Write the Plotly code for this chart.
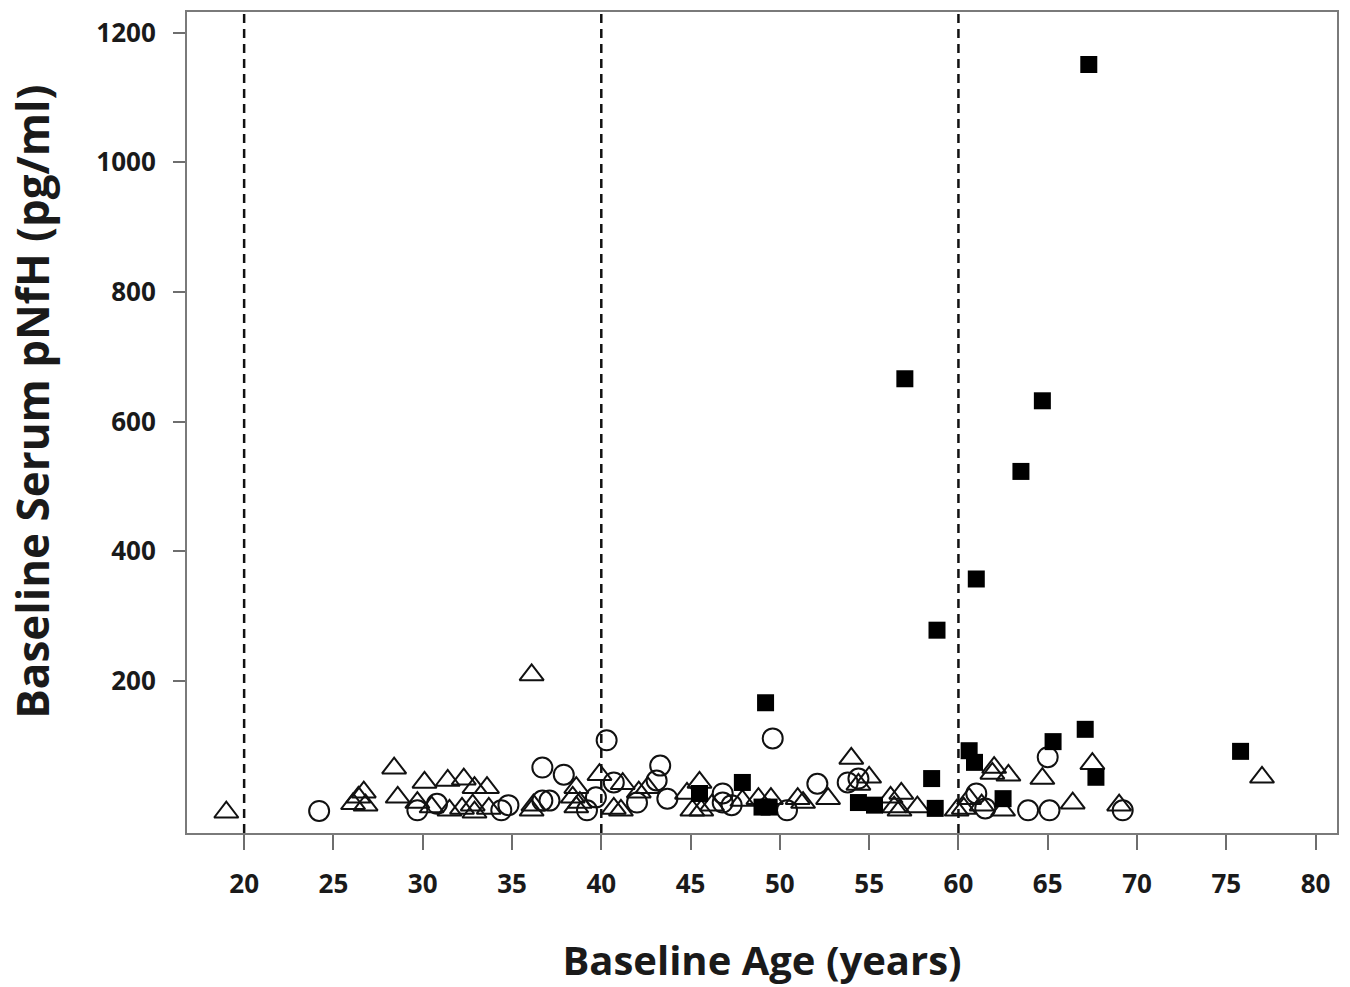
import plotly.graph_objects as go

# Open triangles
tri_age = [19.0, 26.1, 26.7, 26.8, 26.4, 28.4, 28.6, 29.7, 30.1, 30.5, 31.4, 31.5, 32.2, 32.3,
           32.8, 32.9, 32.9, 33.6, 33.7, 36.1, 36.1, 36.2, 38.6, 38.4, 38.8, 38.6, 39.9, 40.7,
           41.2, 41.1, 42.1, 42.6, 44.8, 45.5, 45.1, 45.6, 46.2, 47.9, 48.8, 49.5, 51.0, 51.3,
           52.7, 54.0, 54.4, 55.0, 56.2, 56.8, 56.4, 56.7, 57.7, 59.9, 60.6, 61.3, 62.0, 62.8,
           61.9, 62.5, 60.3, 64.7, 66.4, 67.5, 69.0, 77.0]
tri_val = [-3, 10, 28, 8, 20, 65, 20, 12, 43, 5, 46, 0, 3, 48,
           8, 35, -3, 35, 3, 209, 0, 8, 35, 20, 12, 5, 55, 3,
           41, 0, 28, 35, 26, 43, 0, 0, 8, 15, 18, 18, 18, 12,
           18, 80, 40, 51, 20, 26, 5, 0, 5, 0, 18, 8, 66, 54,
           57, 0, 3, 49, 11, 72, 8, 51]

# Open circles
cir_age = [24.2, 29.7, 30.8, 34.4, 34.8, 36.7, 37.9, 36.7, 37.1, 39.2, 39.7, 40.3, 40.7, 42.0,
           43.3, 43.1, 43.7, 46.8, 46.8, 47.3, 49.6, 50.4, 52.1, 53.8, 54.4, 61.0, 61.5, 63.9,
           65.0, 65.1, 69.2]
cir_val = [-1, 0, 10, 0, 8, 66, 55, 15, 15, 0, 20, 108, 43, 12,
           69, 46, 18, 26, 12, 8, 111, 0, 41, 43, 49, 26, 3, 0,
           82, 0, 0]

# Filled squares
sq_age = [67.3, 57.0, 64.7, 63.5, 61.0, 58.8, 49.2, 67.1, 65.3, 75.8, 60.6, 60.9, 58.5, 67.7,
          47.9, 45.5, 62.5, 54.4, 55.3, 58.7, 49.0, 49.4]
sq_val = [1151, 666, 632, 523, 357, 278, 166, 125, 106, 91, 92, 74, 49, 51,
          43, 26, 18, 12, 8, 3, 5, 5]

ref_ages = [20, 40, 60]
x_ticks = list(range(20, 81, 5))
y_ticks = [200, 400, 600, 800, 1000, 1200]

fig = go.Figure()
fig.add_trace(go.Scatter(x=tri_age, y=tri_val, mode="markers",
                         marker=dict(symbol="triangle-up-open", size=21, color="#111",
                                     line=dict(width=2, color="#111")), showlegend=False))
fig.add_trace(go.Scatter(x=cir_age, y=cir_val, mode="markers",
                         marker=dict(symbol="circle-open", size=20, color="#111",
                                     line=dict(width=2, color="#111")), showlegend=False))
fig.add_trace(go.Scatter(x=sq_age, y=sq_val, mode="markers",
                         marker=dict(symbol="square", size=17, color="#000",
                                     line=dict(width=0)), showlegend=False))

for a in ref_ages:
    fig.add_shape(type="line", x0=a, x1=a, xref="x", y0=0, y1=1, yref="paper",
                  line=dict(color="#111", width=2.5, dash="9px,6px"), layer="below")

font_family = "Open Sans, Noto Sans, DejaVu Sans, sans-serif"

fig.add_annotation(text="Baseline Serum pNfH (pg/ml)", textangle=-90,
                   xref="paper", yref="paper", x=-0.135, y=0.525,
                   xanchor="center", yanchor="middle", showarrow=False,
                   font=dict(size=44, family=font_family, weight="bold", color="#1a1a1a"))

fig.update_layout(
    width=1350, height=987,
    margin=dict(l=187, r=13, t=10, b=154),
    paper_bgcolor="white", plot_bgcolor="white",
    font=dict(family=font_family, color="#1a1a1a"),
    xaxis=dict(range=[16.8, 81.2], tickvals=x_ticks, ticks="outside", ticklen=15,
               tickwidth=2, tickcolor="#6e6e6e", showline=True, linecolor="#7a7a7a",
               linewidth=2, mirror=True, showgrid=False, zeroline=False,
               ticklabelstandoff=12,
               tickfont=dict(size=26, family=font_family, weight="bold", color="#1a1a1a"),
               title=dict(text="Baseline Age (years)", standoff=48,
                          font=dict(size=40, family=font_family, weight="bold", color="#1a1a1a"))),
    yaxis=dict(range=[-35, 1232], tickvals=y_ticks, ticks="outside", ticklen=12,
               tickwidth=2, tickcolor="#6e6e6e", showline=True, linecolor="#7a7a7a",
               linewidth=2, mirror=True, showgrid=False, zeroline=False,
               ticklabelstandoff=12,
               tickfont=dict(size=26, family=font_family, weight="bold", color="#1a1a1a")),
)

fig.write_html("out.html")
